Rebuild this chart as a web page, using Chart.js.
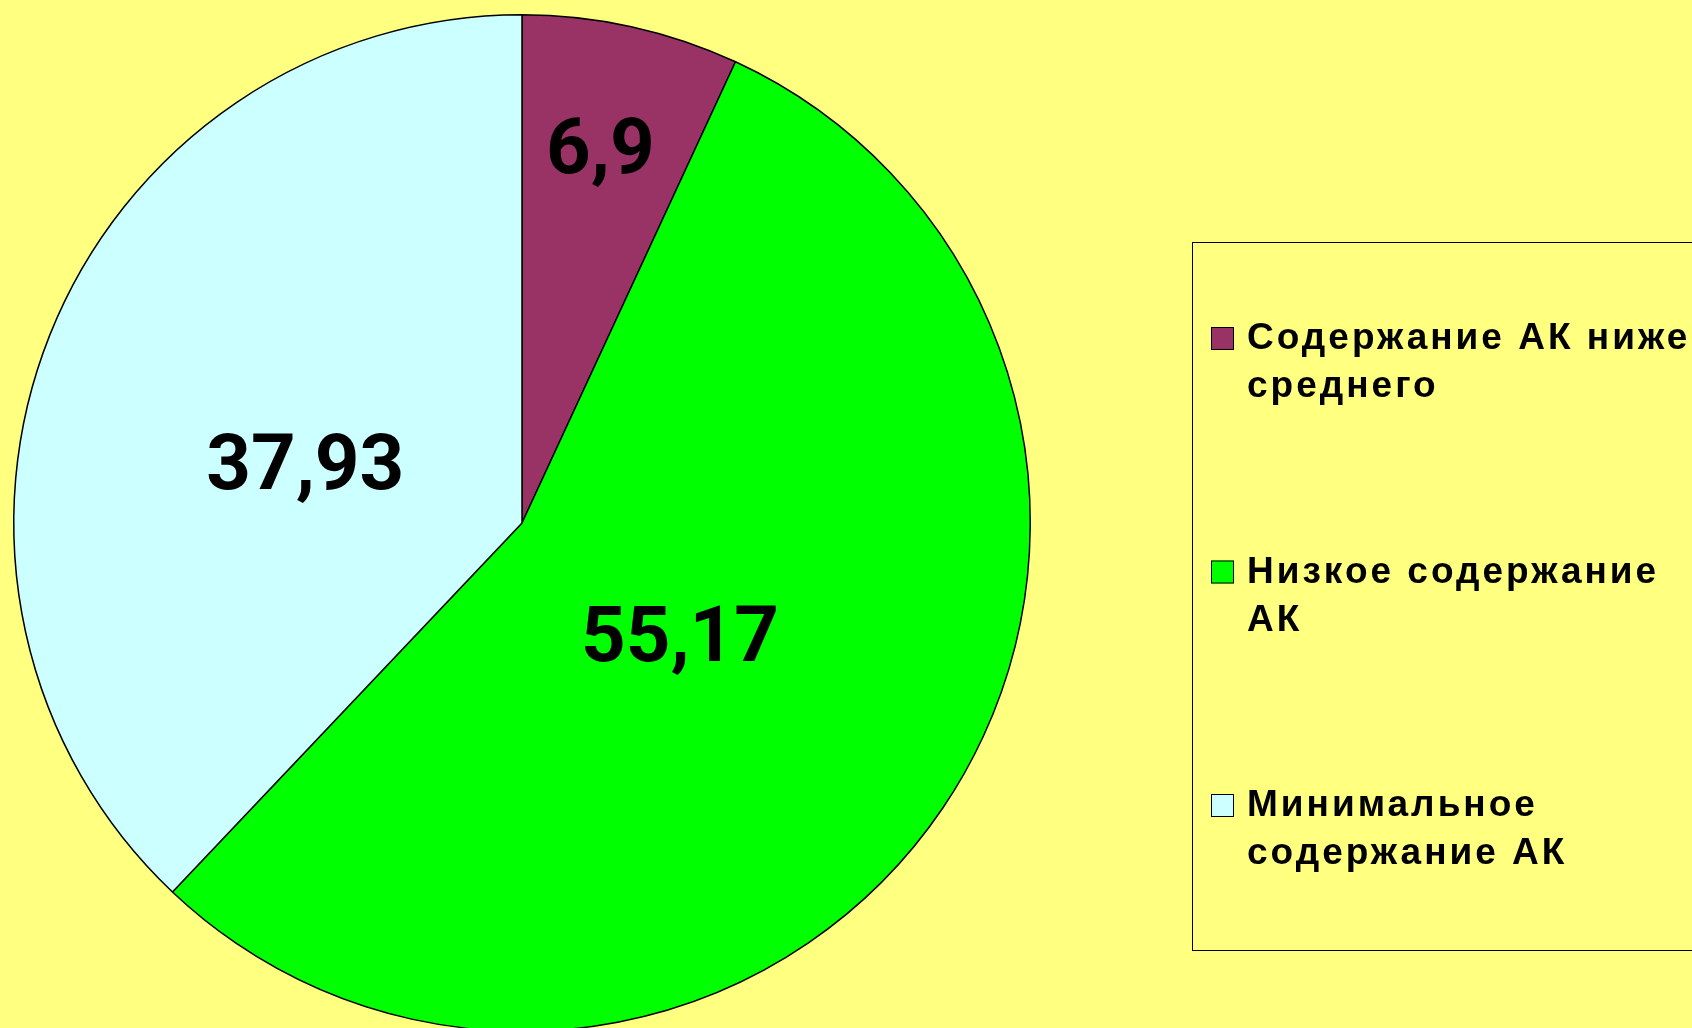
<!DOCTYPE html>
<html>
<head>
<meta charset="utf-8">
<script src="https://cdn.jsdelivr.net/npm/chart.js@4/dist/chart.umd.min.js"></script>
<style>
  html, body { margin: 0; padding: 0; background: #FFFF80; overflow: hidden; }
  canvas { display: block; }
</style>
</head>
<body>
<canvas id="chartPie" width="1692" height="1046"></canvas>
<script>
// categories (legend lines) and values
const categories = [
    ['Содержание АК ниже', 'среднего'],
    ['Низкое содержание', 'АК'],
    ['Минимальное', 'содержание АК']
];
const values = [6.9, 55.17, 37.93];
const sliceColors = ['#993366', '#00FF00', '#CCFFFF'];

// where each value label sits: fraction of radius, and shift from mid angle (deg)
const labelRadius = [0.752, 0.383, 0.442];
const labelShift = [-0.6, 1.6, -6.5];

const fmt = v => String(v).replace('.', ',');

const valueLabels = {
    id: 'valueLabels',
    afterDatasetsDraw(chart) {
        const ctx = chart.ctx;
        const arcs = chart.getDatasetMeta(0).data;
        ctx.save();
        ctx.font = 'bold 78px Roboto';
        ctx.fillStyle = '#000';
        ctx.textAlign = 'center';
        ctx.textBaseline = 'middle';
        arcs.forEach((arc, i) => {
            const p = arc.getProps(['x', 'y', 'startAngle', 'endAngle', 'outerRadius']);
            const mid = (p.startAngle + p.endAngle) / 2 + labelShift[i] * Math.PI / 180;
            const r = p.outerRadius * labelRadius[i];
            // +5: middle baseline sits a bit above the digit centre
            ctx.fillText(fmt(values[i]), p.x + Math.cos(mid) * r, p.y + Math.sin(mid) * r + 5);
        });
        ctx.restore();
    }
};

const boxLegend = {
    id: 'boxLegend',
    afterDraw(chart) {
        const ctx = chart.ctx;
        const left = 1192, top = 242, bottom = 950;
        ctx.save();
        ctx.strokeStyle = '#000';
        ctx.lineWidth = 1;
        ctx.strokeRect(left + 0.5, top + 0.5, 600, bottom - top);
        ctx.font = 'bold 37px "Liberation Sans"';
        ctx.letterSpacing = '3px';
        ctx.textBaseline = 'middle';
        categories.forEach((lines, i) => {
            const y = 338 + i * 233.5;
            ctx.fillStyle = sliceColors[i];
            ctx.fillRect(1211, y - 11, 23, 23);
            ctx.strokeRect(1211.5, y - 10.5, 22, 22);
            ctx.fillStyle = '#000';
            lines.forEach((t, j) => ctx.fillText(t, 1247, y + 1 + j * 48));
        });
        ctx.restore();
    }
};

const ctx = document.getElementById('chartPie').getContext('2d');

var chart = new Chart(ctx, {
    type: 'pie',
    data: {
        labels: categories.map(l => l.join(' ')),
        datasets: [{
            data: values,
            backgroundColor: sliceColors,
            borderColor: '#000',
            borderWidth: 1.5
        }]
    },
    options: {
        responsive: false,
        animation: false,
        layout: { padding: { left: 13, right: 661, top: 14, bottom: 14 } },
        plugins: {
            legend: { display: false },
            tooltip: { enabled: false }
        }
    },
    plugins: [valueLabels, boxLegend]
});
</script>
</body>
</html>
